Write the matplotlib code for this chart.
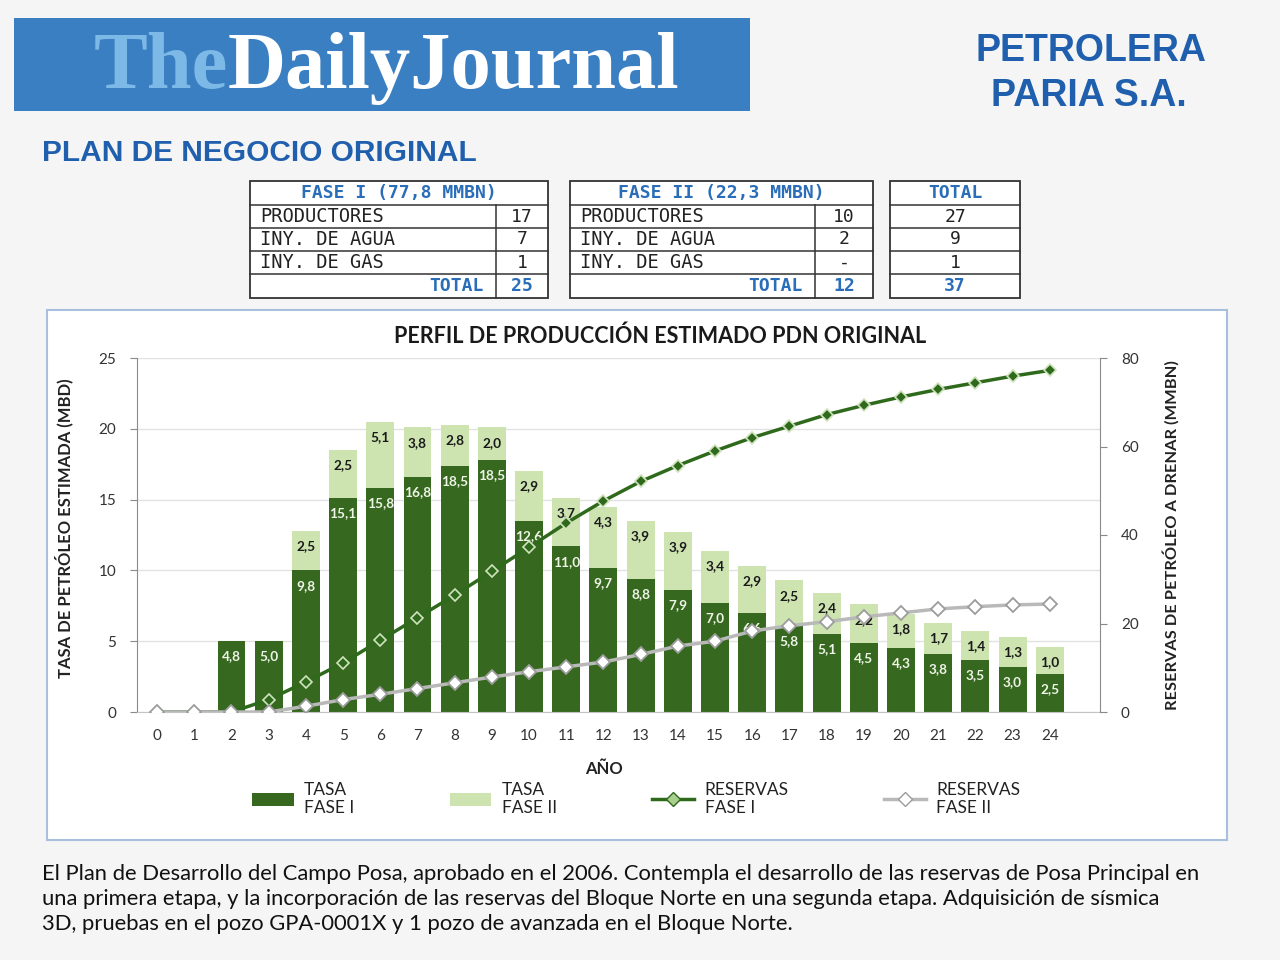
import numpy as np
import matplotlib
matplotlib.use("Agg")
import matplotlib.pyplot as plt
from matplotlib.patches import Rectangle, Patch
from matplotlib.lines import Line2D

# --- data ---
years = list(range(25))
# bar heights (MBD)
tasa_f1 = [0, 0, 5.0, 5.0, 10.0, 15.1, 15.8, 16.6, 17.4, 17.8, 13.5, 11.7, 10.2,
           9.4, 8.6, 7.7, 7.0, 6.1, 5.5, 4.9, 4.5, 4.1, 3.7, 3.2, 2.7]
tasa_f2 = [0, 0, 0, 0, 2.8, 3.4, 4.7, 3.5, 2.9, 2.3, 3.5, 3.4, 4.3,
           4.1, 4.1, 3.7, 3.3, 3.2, 2.9, 2.7, 2.4, 2.2, 2.05, 2.1, 1.9]
# printed labels on the bars
lbl_f1 = ["", "", "4,8", "5,0", "9,8", "15,1", "15,8", "16,8", "18,5", "18,5", "12,6", "11,0", "9,7",
          "8,8", "7,9", "7,0", "6,6", "5,8", "5,1", "4,5", "4,3", "3,8", "3,5", "3,0", "2,5"]
lbl_f2 = ["", "", "", "", "2,5", "2,5", "5,1", "3,8", "2,8", "2,0", "2,9", "3,7", "4,3",
          "3,9", "3,9", "3,4", "2,9", "2,5", "2,4", "2,2", "1,8", "1,7", "1,4", "1,3", "1,0"]
# cumulative reserves (MMBN)
res_f1 = [0, 0, 0, 2.8, 6.8, 11.1, 16.2, 21.3, 26.4, 31.8, 37.2, 42.7, 47.7,
          52.1, 55.7, 59.0, 62.0, 64.6, 67.2, 69.3, 71.2, 72.9, 74.4, 75.9, 77.2]
res_f2 = [0, 0, 0, 0, 1.3, 2.8, 4.0, 5.3, 6.6, 7.9, 9.1, 10.2, 11.3,
          13.0, 14.9, 16.0, 18.3, 19.5, 20.4, 21.5, 22.4, 23.3, 23.8, 24.2, 24.4]

# well tables
row_names = ["PRODUCTORES", "INY. DE AGUA", "INY. DE GAS"]
fase1_wells = ["17", "7", "1"]
fase2_wells = ["10", "2", "-"]
total_wells = ["27", "9", "1"]
fase1_total = "25"
fase2_total = "12"
grand_total = "37"

paragraph = [
    "El Plan de Desarrollo del Campo Posa, aprobado en el 2006. Contempla el desarrollo de las reservas de Posa Principal en",
    "una primera etapa, y la incorporación de las reservas del Bloque Norte en una segunda etapa. Adquisición de sísmica",
    "3D, pruebas en el pozo GPA-0001X y 1 pozo de avanzada en el Bloque Norte.",
]

DARK = "#36681f"
LIGHT = "#cde4b1"
LINE1 = "#2f6a1c"
GREY = "#b9b9b9"
BLUE = "#1f5fae"
TBLUE = "#2a6db8"

fig = plt.figure(figsize=(12.8, 9.6), dpi=100, facecolor="#f5f5f5")

# page-level drawing layer in pixel coordinates
bg = fig.add_axes([0, 0, 1, 1], zorder=0)
bg.set_xlim(0, 1280)
bg.set_ylim(960, 0)
bg.axis("off")

# banner
bg.add_patch(Rectangle((14, 18), 736, 93, facecolor="#3b7fc3", edgecolor="none"))
bg.text(228, 88, "The", fontsize=58, fontweight="bold", family="Liberation Serif",
        color="#7cb9e6", ha="right", va="baseline")
bg.text(228, 88, "DailyJournal", fontsize=58, fontweight="bold", family="Liberation Serif",
        color="white", ha="left", va="baseline")

bg.text(1091, 51, "PETROLERA", fontsize=27, fontweight="bold", family="Liberation Sans",
        color=BLUE, ha="center", va="center")
bg.text(1089, 96, "PARIA S.A.", fontsize=27, fontweight="bold", family="Liberation Sans",
        color=BLUE, ha="center", va="center")
bg.text(42, 153, "PLAN DE NEGOCIO ORIGINAL", fontsize=21.5, fontweight="bold",
        family="Liberation Sans", color=BLUE, ha="left", va="center")


def draw_table(x0, x1, xsplit, header, values, total):
    tops = [181, 205, 228, 251, 274, 298]
    kw = dict(color="#333333", lw=1.1)
    bg.add_patch(Rectangle((x0, tops[0]), x1 - x0, tops[-1] - tops[0],
                           facecolor="white", edgecolor="#333333", lw=1.3))
    for y in tops[1:-1]:
        bg.plot([x0, x1], [y, y], **kw)
    mono = "DejaVu Sans Mono"
    bg.text((x0 + x1) / 2, (tops[0] + tops[1]) / 2, header, family=mono, fontsize=13,
            fontweight="bold", color=TBLUE, ha="center", va="center")
    xv = (xsplit + x1) / 2 if xsplit else (x0 + x1) / 2
    if xsplit:
        bg.plot([xsplit, xsplit], [tops[1], tops[-1]], **kw)
    for i, v in enumerate(values):
        yc = (tops[i + 1] + tops[i + 2]) / 2
        if xsplit:
            bg.text(x0 + 10, yc, row_names[i], family=mono, fontsize=13.5,
                    color="#222222", ha="left", va="center")
        bg.text(xv, yc, v, family=mono, fontsize=13, color="#222222",
                ha="center", va="center")
    yc = (tops[4] + tops[5]) / 2
    if xsplit:
        bg.text(xsplit - 12, yc, "TOTAL", family=mono, fontsize=13, fontweight="bold",
                color=TBLUE, ha="right", va="center")
    bg.text(xv, yc, total, family=mono, fontsize=13, fontweight="bold",
            color=TBLUE, ha="center", va="center")


draw_table(250, 548, 496, "FASE I (77,8 MMBN)", fase1_wells, fase1_total)
draw_table(570, 873, 815, "FASE II (22,3 MMBN)", fase2_wells, fase2_total)
draw_table(890, 1020, None, "TOTAL", total_wells, grand_total)

# chart frame
bg.add_patch(Rectangle((47, 310), 1180, 530, facecolor="white", edgecolor="#a8c0dd", lw=1.5))

for i, line in enumerate(paragraph):
    bg.text(42, 874 + 25 * i, line, fontsize=15.8, family="Lato", color="#111111",
            ha="left", va="center")

# --- chart ---
ax = fig.add_axes([137 / 1280, 1 - 712 / 960, 963 / 1280, 354 / 960], zorder=1)
ax.set_facecolor("none")
x = np.array(years)
bars1 = ax.bar(x, tasa_f1, width=0.75, color=DARK, zorder=2)
bars2 = ax.bar(x, tasa_f2, width=0.75, bottom=tasa_f1, color=LIGHT, zorder=2)

for i in years:
    if lbl_f1[i]:
        ax.annotate(lbl_f1[i], (x[i], tasa_f1[i]), xytext=(0, -11), textcoords="offset points",
                    ha="center", va="center", fontsize=9.8, fontweight="bold",
                    family="Lato", color="#eef4e6", zorder=3)
    if lbl_f2[i]:
        ax.annotate(lbl_f2[i], (x[i], tasa_f1[i] + tasa_f2[i]), xytext=(0, -11),
                    textcoords="offset points", ha="center", va="center", fontsize=9.8,
                    fontweight="bold", family="Lato", color="#1a1a1a", zorder=3)

ax.set_xlim(-0.54, 25.35)
ax.set_ylim(0, 25)
ax.set_yticks(range(0, 26, 5))
ax.set_xticks(x)
ax.grid(axis="y", color="#e2e2e2", lw=1, zorder=0)
ax.set_axisbelow(True)
for s in ["top", "right"]:
    ax.spines[s].set_visible(False)
ax.spines["left"].set_color("#8a8a8a")
ax.spines["bottom"].set_color("#c4c4c4")
ax.tick_params(axis="x", length=0, pad=12, labelsize=11, labelcolor="#333333")
ax.tick_params(axis="y", length=5, color="#8a8a8a", pad=10, labelsize=11, labelcolor="#333333")
for t in ax.get_xticklabels() + ax.get_yticklabels():
    t.set_family("Lato")

ax.set_ylabel("TASA DE PETRÓLEO ESTIMADA (MBD)", fontsize=12, fontweight="bold",
              family="Lato", color="#222222")
ax.yaxis.set_label_coords(-0.066, 0.52)
ax.set_xlabel("AÑO", fontsize=12, fontweight="bold", family="Lato", color="#222222")
ax.xaxis.set_label_coords(0.485, -0.138)

ax2 = ax.twinx()
ax2.plot(x, res_f1, color=LINE1, lw=2.5, marker="D", ms=6.5,
         markerfacecolor=LINE1, markeredgecolor="#cfe3bd", markeredgewidth=1.2, zorder=4)
ax2.plot(x, res_f2, color=GREY, lw=2.5, marker="D", ms=7,
         markerfacecolor="white", markeredgecolor="#9c9c9c", markeredgewidth=1.3, zorder=5)
ax2.set_ylim(0, 80)
ax2.set_yticks(range(0, 81, 20))
for s in ["top", "left", "bottom"]:
    ax2.spines[s].set_visible(False)
ax2.spines["right"].set_color("#8a8a8a")
ax2.tick_params(axis="y", length=5, color="#8a8a8a", pad=10, labelsize=11, labelcolor="#333333")
for t in ax2.get_yticklabels():
    t.set_family("Lato")
ax2.set_ylabel("RESERVAS DE PETRÓLEO A DRENAR (MMBN)", fontsize=11.8, fontweight="bold",
               family="Lato", color="#222222")
ax2.yaxis.set_label_coords(1.065, 0.5)

fig.text(660 / 1280, 1 - 336 / 960, "PERFIL DE PRODUCCIÓN ESTIMADO PDN ORIGINAL",
         fontsize=15.5, fontweight="bold", family="Lato", color="#1a1a1a",
         ha="center", va="center")

handles = [
    Patch(facecolor=DARK),
    Patch(facecolor=LIGHT),
    Line2D([], [], color=LINE1, lw=2.5, marker="D", ms=7,
           markerfacecolor="#a9cf8f", markeredgecolor=LINE1),
    Line2D([], [], color=GREY, lw=2.5, marker="D", ms=7,
           markerfacecolor="white", markeredgecolor="#9c9c9c"),
]
labels = ["TASA\nFASE I", "TASA\nFASE II", "RESERVAS\nFASE I", "RESERVAS\nFASE II"]
leg = fig.legend(handles, labels, loc="center", bbox_to_anchor=(636 / 1280, 1 - 799 / 960),
                 ncol=4, frameon=False, handlelength=2.4, handletextpad=0.6,
                 columnspacing=5.5, numpoints=1, prop={"family": "Lato", "size": 12.5})
for t in leg.get_texts():
    t.set_color("#222222")

fig.savefig("out.png", dpi=100, facecolor=fig.get_facecolor())
